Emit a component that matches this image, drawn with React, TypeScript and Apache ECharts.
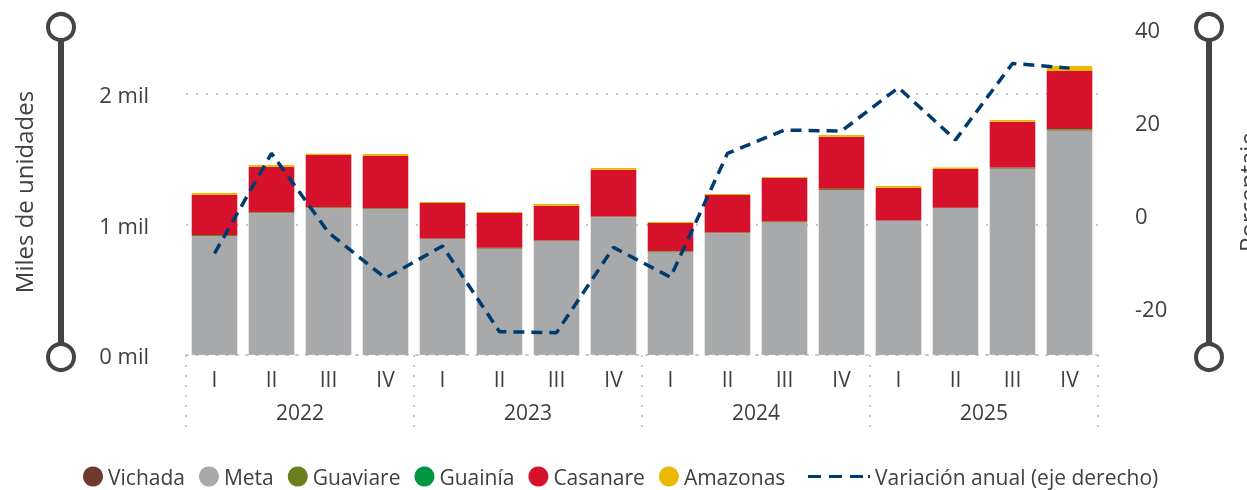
import React, { useEffect, useRef } from "react";
import * as echarts from "echarts";

const FONT = "'Segoe UI', 'Open Sans', sans-serif";
const TEXT = "#404040";
const GRID = "#c8c8c8";

const quarterLabels = ["I", "II", "III", "IV", "I", "II", "III", "IV", "I", "II", "III", "IV", "I", "II", "III", "IV"];
const years = ["2022", "2023", "2024", "2025"];

const vichada = [1, 1, 1, 1, 1, 1, 1, 1, 1, 1, 1, 1, 1, 1, 1, 1];
const meta = [911, 1086, 1124, 1119, 889, 814, 873, 1055, 786, 932, 1016, 1264, 1027, 1126, 1428, 1719];
const guaviare = [8, 7, 8, 5, 3, 7, 3, 6, 7, 6, 6, 9, 2, 2, 8, 12];
const guainia = [1, 1, 1, 1, 1, 1, 1, 1, 1, 1, 1, 1, 1, 1, 1, 1];
const casanare = [306, 349, 400, 400, 272, 266, 267, 358, 217, 287, 336, 399, 252, 296, 351, 445];
const amazonas = [15, 13, 10, 15, 7, 8, 13, 13, 8, 8, 5, 13, 13, 11, 13, 38];
const variacion = [-8.2, 13.3, -3.7, -13.5, -6.6, -25.0, -25.2, -6.9, -13.3, 13.3, 18.3, 18.1, 27.4, 16.2, 32.6, 31.6];

const barSeries = [
  { name: "Vichada", data: vichada, color: "#6F3A2E" },
  { name: "Meta", data: meta, color: "#A8A9AB" },
  { name: "Guaviare", data: guaviare, color: "#6B7F1E" },
  { name: "Guainía", data: guainia, color: "#00963F" },
  { name: "Casanare", data: casanare, color: "#D6112B" },
  { name: "Amazonas", data: amazonas, color: "#EDB800" },
];
const lineName = "Variación anual (eje derecho)";
const lineColor = "#003B70";

const dotted = { color: GRID, type: [2, 8] as number[], width: 2 };

function slider(x: number) {
  return [
    { type: "line", shape: { x1: x, y1: 27, x2: x, y2: 357 }, style: { stroke: "#444", lineWidth: 6 } },
    { type: "circle", shape: { cx: x, cy: 27, r: 13 }, style: { fill: "#fff", stroke: "#444", lineWidth: 4 } },
    { type: "circle", shape: { cx: x, cy: 357, r: 13 }, style: { fill: "#fff", stroke: "#444", lineWidth: 4 } },
  ];
}

export default function App() {
  const ref = useRef<HTMLDivElement>(null);
  useEffect(() => {
    const chart = echarts.init(ref.current!, null, { renderer: "svg" });
    const legendText = { fontSize: 21, lineHeight: 20, color: TEXT, fontFamily: FONT };
    const option: any = {
      animation: false,
      textStyle: { fontFamily: FONT },
      grid: { left: 186, right: 149, top: 29, bottom: 135 },
      legend: [
        {
          left: 81,
          top: 464,
          padding: 2,
          itemWidth: 20,
          itemHeight: 20,
          itemGap: 14,
          icon: "circle",
          data: barSeries.map((s) => s.name),
          textStyle: legendText,
        },
        {
          left: 806,
          top: 464,
          padding: 2,
          itemWidth: 62,
          itemHeight: 20,
          data: [{ name: lineName, icon: "path://M0,0h13v3h-13z M21,0h13v3h-13z M42,0h13v3h-13z M60,0h2v3h-2z" }],
          itemStyle: { borderWidth: 0 },
          textStyle: legendText,
        },
      ],
      xAxis: [
        {
          type: "category",
          data: quarterLabels,
          position: "bottom",
          axisLine: { show: true, onZero: false, lineStyle: dotted },
          axisTick: { show: false },
          axisLabel: { interval: 0, margin: 13, fontSize: 21, color: TEXT, fontFamily: FONT },
          splitLine: { show: false },
        },
        {
          type: "category",
          data: years,
          position: "bottom",
          axisLine: { show: false, onZero: false },
          axisTick: { show: true, interval: 0, length: 80, lineStyle: dotted },
          axisLabel: { interval: 0, margin: 46, fontSize: 21, color: TEXT, fontFamily: FONT },
          splitLine: { show: false },
        },
      ],
      yAxis: [
        {
          type: "value",
          min: 0,
          max: 2500,
          interval: 1000,
          position: "left",
          axisLine: { show: false },
          axisTick: { show: false },
          axisLabel: {
            showMaxLabel: false,
            margin: 37,
            fontSize: 22,
            color: TEXT,
            fontFamily: FONT,
            formatter: (v: number) => (v % 1000 === 0 ? `${v / 1000} mil` : ""),
          },
          splitLine: { show: true, showMinLine: false, showMaxLine: false, lineStyle: dotted },
        },
        {
          type: "value",
          min: -30,
          max: 40,
          interval: 10,
          position: "right",
          axisLine: { show: false },
          axisTick: { show: false },
          axisLabel: {
            margin: 37,
            fontSize: 22,
            color: TEXT,
            fontFamily: FONT,
            formatter: (v: number) => (v % 20 === 0 ? String(v) : ""),
          },
          splitLine: { show: false },
        },
      ],
      series: [
        ...barSeries.map((s) => ({
          name: s.name,
          type: "bar",
          stack: "total",
          xAxisIndex: 0,
          yAxisIndex: 0,
          barCategoryGap: "20%",
          data: s.data,
          itemStyle: { color: s.color },
        })),
        {
          name: lineName,
          type: "line",
          xAxisIndex: 0,
          yAxisIndex: 1,
          data: variacion,
          symbol: "none",
          z: 5,
          itemStyle: { color: lineColor },
          lineStyle: { color: lineColor, width: 3.5, type: [11, 7] },
        },
      ],
      graphic: [
        ...slider(61),
        ...slider(1209),
        {
          type: "text",
          x: 23,
          y: 192,
          rotation: Math.PI / 2,
          style: { text: "Miles de unidades", fontSize: 24, fontFamily: FONT, fill: TEXT, align: "center", verticalAlign: "middle" },
        },
        {
          type: "text",
          x: 1247,
          y: 192,
          rotation: Math.PI / 2,
          style: { text: "Porcentaje", fontSize: 24, fontFamily: FONT, fill: TEXT, align: "center", verticalAlign: "middle" },
        },
      ],
    };
    chart.setOption(option);
    return () => chart.dispose();
  }, []);
  return <div ref={ref} style={{ position: "fixed", left: 0, top: 0, width: 1247, height: 490 }} />;
}
